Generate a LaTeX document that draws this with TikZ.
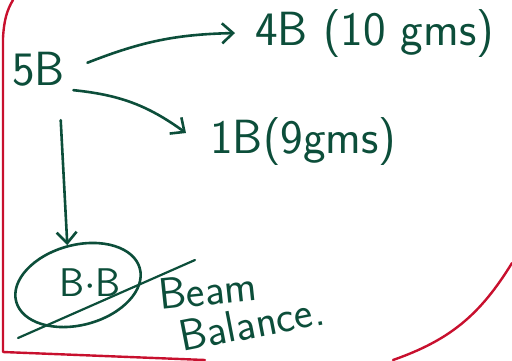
\documentclass[tikz,border=0pt]{standalone}
\usepackage[dvipsnames]{xcolor}
\usetikzlibrary{arrows.meta, shapes.geometric}
\definecolor{InkGreen}{RGB}{12,78,58}
\definecolor{MarginRed}{RGB}{200,16,46}

\begin{document}
\begin{tikzpicture}[
    x = 0.5pt, y = 0.5pt,
    >={Straight Barb[length=5.5pt, width=10pt]},
    font = \sffamily,
    lbl/.style={
      text = InkGreen,
      font = \sffamily\fontsize{24}{28}\selectfont,
      inner sep = 2pt,
    },
    note/.style={
      lbl,
      font = \sffamily\fontsize{20}{24}\selectfont,
    },
    tag/.style={
      lbl,
      font = \sffamily\fontsize{22}{26}\selectfont,
      inner sep = 0pt,
    },
    ink/.style={
      draw = InkGreen,
      line width = 1.3pt,
      line cap = round,
    },
    ring/.style={
      ink,
      ellipse,
      minimum width = 64pt,
      minimum height = 40pt,
      inner sep = 0pt,
    },
    margin/.style={
      draw = MarginRed,
      line width = 1.2pt,
      line cap = round,
      line join = round,
    },
  ]
  \useasboundingbox (0,0) rectangle (512,360);

  % labels
  \node[lbl, anchor=base west] (five) at (8,275) {5B};
  \node[lbl, anchor=base west] (four) at (251,315) {4B (10 gms)};
  \node[lbl, anchor=base west] (one) at (206,207) {1B(9gms)};

  % beam balance, ringed and struck through
  \node[ring, rotate=15] (ring) at (78,75) {};
  \node[note] (bb) at (90,77) {B$\cdot$B};
  \node[tag, anchor=base west, rotate=6] (beam) at (160,50) {Beam};
  \node[tag, anchor=base west, rotate=11] (balance) at (182,8) {Balance.};
  \coordinate (cut a) at (18,22);
  \coordinate (cut b) at (195,100);
  \draw[ink, line width=1.1pt] (cut a) -- (cut b);

  % arrows
  \draw[ink, ->] ([xshift=9pt, yshift=3pt]five.east) to[bend left=10] ([xshift=-8pt]four.west);
  \draw[ink, ->] ([xshift=2pt]five.south east) to[bend left=15] ([xshift=-10pt, yshift=4pt]one.west);
  \draw[ink, ->] ([xshift=11pt, yshift=-15pt]five.south) -- (ring.north);

  % page margin
  \draw[margin] (13,360) .. controls (7,350) and (4,340) .. (3,322) -- (3,8) -- (205,0);
  \draw[margin] (512,97) .. controls (480,45) and (450,20) .. (393,0);
\end{tikzpicture}
\end{document}
